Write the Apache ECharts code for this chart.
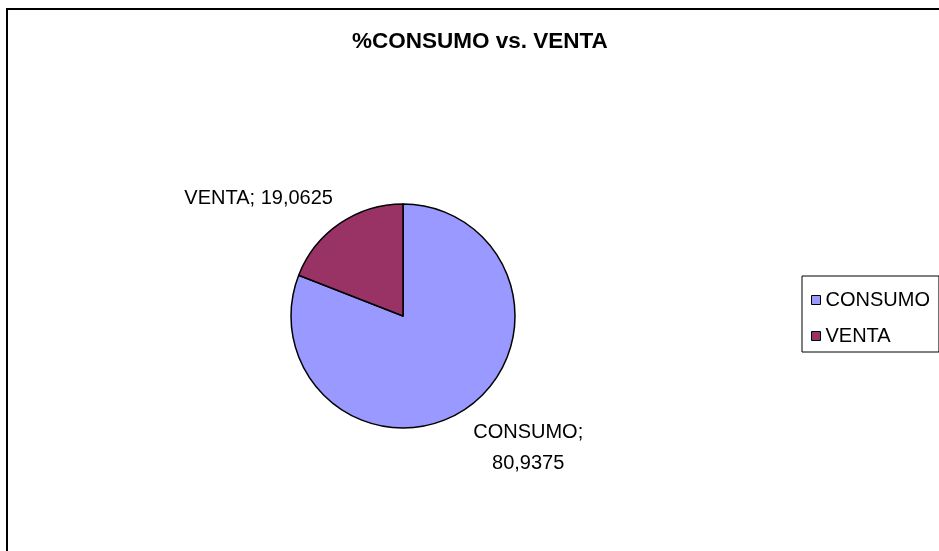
<!DOCTYPE html>
<html>
<head>
<meta charset="utf-8">
<script src="https://cdn.jsdelivr.net/npm/echarts@6/dist/echarts.min.js"></script>
<style>
html,body{margin:0;padding:0;background:#fff;}
#chart{width:939px;height:551px;}
</style>
</head>
<body>
<div id="chart"></div>
<script>
// ---- data ----
const titleText = '%CONSUMO vs. VENTA';
const categories = ['CONSUMO', 'VENTA'];
const values = [80.9375, 19.0625];
const colors = ['#9999FF', '#993366'];

// ---- label placement styles (per slice) ----
const labelLineLens = [[48, -25], [30, -15]];

const fmt = v => String(v).replace('.', ',');

const seriesData = categories.map((name, i) => ({
  name: name,
  value: values[i],
  itemStyle: { color: colors[i] },
  labelLine: { show: false, length: labelLineLens[i][0], length2: labelLineLens[i][1] }
}));

const chart = echarts.init(document.getElementById('chart'), null, { renderer: 'canvas' });
chart.setOption({
  animation: false,
  backgroundColor: '#ffffff',
  textStyle: { fontFamily: 'Liberation Sans, Arial, sans-serif' },
  title: {
    text: titleText,
    left: 352,
    top: 30,
    padding: 0,
    textStyle: { fontFamily: 'Liberation Sans, Arial, sans-serif', fontSize: 22.5, fontWeight: 'bold', color: '#000' }
  },
  legend: {
    orient: 'vertical',
    left: 802,
    top: 276,
    padding: [14, 9, 6, 9],
    itemGap: 16,
    itemWidth: 9,
    itemHeight: 9,
    icon: 'rect',
    borderColor: '#000',
    borderWidth: 1,
    borderRadius: 0,
    itemStyle: { borderColor: '#000', borderWidth: 1 },
    textStyle: { fontFamily: 'Liberation Sans, Arial, sans-serif', fontSize: 20, color: '#000', lineHeight: 20 },
    data: categories
  },
  graphic: [{
    type: 'polyline',
    silent: true,
    shape: { points: [[7, 560], [7, 9], [950, 9]] },
    style: { stroke: '#000', lineWidth: 2, fill: null }
  }],
  series: [{
    type: 'pie',
    center: [403, 316],
    radius: 112,
    startAngle: 90,
    clockwise: true,
    avoidLabelOverlap: false,
    itemStyle: { borderColor: '#000', borderWidth: 1.5 },
    emphasis: { disabled: true },
    label: {
      show: true,
      position: 'outside',
      distanceToLabelLine: 5,
      color: '#000',
      fontFamily: 'Liberation Sans, Arial, sans-serif',
      fontSize: 20,
      formatter: p => p.dataIndex === 0
        ? '{c|' + p.name + ';}\n{c|' + fmt(p.value) + '}'
        : '{c|' + p.name + '; ' + fmt(p.value) + '}',
      rich: { c: { fontSize: 20, lineHeight: 31, align: 'center', color: '#000', fontFamily: 'Liberation Sans, Arial, sans-serif' } }
    },
    data: seriesData
  }]
});
</script>
</body>
</html>
